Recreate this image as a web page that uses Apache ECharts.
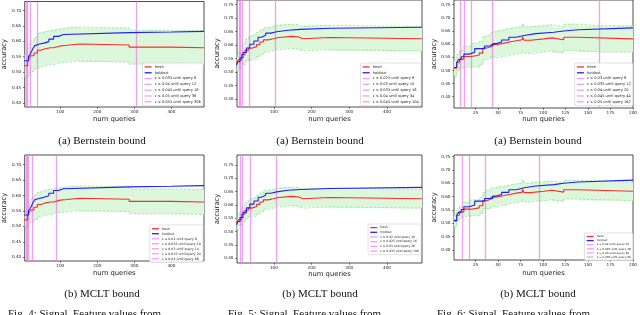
<!DOCTYPE html>
<html><head><meta charset="utf-8">
<script src="https://cdn.jsdelivr.net/npm/echarts@6/dist/echarts.min.js"></script>
<style>html,body{margin:0;padding:0;background:#fff}#c{width:640px;height:315px}</style>
</head><body><div id="c"></div><script>
// ---- tick labels ----
const yTicksA = [0.40, 0.45, 0.50, 0.55, 0.60, 0.65, 0.70];
const yTicksB = [0.40, 0.45, 0.50, 0.55, 0.60, 0.65, 0.70, 0.75];
const xTicksA = [100, 200, 300, 400];
const xTicksB = [25, 50, 75, 100, 125, 150, 175, 200];

// ---- Fig. 4 (left column) ----
const f4FreshX = [1, 12, 16, 20, 29, 38, 47, 60, 73, 78, 82, 100, 118, 153, 286, 400, 488];
const f4FreshY = [0.521, 0.533, 0.545, 0.553, 0.562, 0.571, 0.576, 0.579, 0.582, 0.579, 0.585, 0.587, 0.591, 0.588, 0.581, 0.579, 0.579];
const f4HoldX = [1, 14, 18, 22, 27, 31, 36, 44, 56, 69, 82, 95, 109, 286, 400, 488];
const f4HoldY = [0.537, 0.550, 0.557, 0.566, 0.578, 0.586, 0.591, 0.594, 0.599, 0.607, 0.616, 0.622, 0.628, 0.630, 0.632, 0.632];

// ---- Fig. 5 (middle column) ----
const f5FreshX = [1, 5, 14, 23, 32, 41, 54, 63, 72, 85, 98, 112, 150, 166, 176, 249, 493];
const f5FreshY = [0.530, 0.545, 0.565, 0.580, 0.588, 0.594, 0.602, 0.611, 0.619, 0.623, 0.628, 0.632, 0.630, 0.623, 0.628, 0.623, 0.623];
const f5HoldX = [1, 4, 10, 18, 27, 36, 47, 58, 67, 78, 92, 107, 138, 170, 249, 493];
const f5HoldY = [0.525, 0.538, 0.553, 0.572, 0.589, 0.603, 0.615, 0.629, 0.636, 0.644, 0.649, 0.655, 0.658, 0.662, 0.666, 0.666];

// ---- Fig. 6 (right column) ----
const f6FreshX = [1, 4, 7, 12, 20, 29, 33, 37, 42, 48, 57, 64, 72, 77, 79, 86, 101, 110, 123, 139, 200];
const f6FreshY = [0.508, 0.530, 0.543, 0.553, 0.558, 0.566, 0.585, 0.590, 0.598, 0.604, 0.609, 0.614, 0.617, 0.628, 0.615, 0.620, 0.624, 0.617, 0.626, 0.620, 0.620];
const f6HoldX = [1, 4, 6, 9, 12, 18, 24, 35, 44, 48, 54, 62, 70, 79, 92, 112, 123, 139, 200];
const f6HoldY = [0.511, 0.530, 0.541, 0.552, 0.562, 0.569, 0.583, 0.593, 0.602, 0.608, 0.616, 0.626, 0.633, 0.640, 0.645, 0.650, 0.655, 0.662, 0.662];

// ---- epsilon bounds (legend / vertical lines) ----
const bern4Eps = [0.035, 0.04, 0.045, 0.05, 0.055];
const bern4Query = [8, 12, 18, 38, 306];
const bern5Eps = [0.025, 0.03, 0.035, 0.04, 0.045];
const bern5Query = [8, 10, 16, 34, 104];
const bern6Eps = [0.03, 0.035, 0.04, 0.045, 0.05];
const bern6Query = [8, 12, 20, 44, 162];
const mclt4Eps = [0.02, 0.025, 0.03, 0.035, 0.04];
const mclt4Query = [8, 10, 14, 24, 88];
const mclt5Eps = [0.02, 0.025, 0.03, 0.035];
const mclt5Query = [10, 16, 36, 106];
const mclt6Eps = [0.02, 0.025, 0.03, 0.035];
const mclt6Query = [10, 18, 36, 96];

const topCaption = '(a) Bernstein bound';
const bottomCaption = '(b) MCLT bound';
const figCaptions = ['Fig. 4: Signal. Feature values from', 'Fig. 5: Signal. Feature values from', 'Fig. 6: Signal. Feature values from'];

// ---- layout ----
const panels = [
  {grid:{left:21,top:1.5,width:183,height:105.5}, x:[4,488], y:[0.387,0.729], xt:xTicksA, yt:yTicksA,
   fresh:[f4FreshX,f4FreshY], hold:[f4HoldX,f4HoldY], eps:[bern4Eps,bern4Query], lg:{right:437,top:63,fs:3.6,pitch:5.8}, yGap:12.5, xGap:8.5},
  {grid:{left:237,top:0,width:185,height:107}, x:[2,493], y:[0.370,0.767], xt:xTicksA, yt:yTicksB,
   fresh:[f5FreshX,f5FreshY], hold:[f5HoldX,f5HoldY], eps:[bern5Eps,bern5Query], lg:{right:219,top:63,fs:3.6,pitch:5.8}, yGap:14.5, xGap:8.5},
  {grid:{left:454,top:0,width:181,height:108}, x:[1,200], y:[0.357,0.768], xt:xTicksB, yt:yTicksB,
   fresh:[f6FreshX,f6FreshY], hold:[f6HoldX,f6HoldY], eps:[bern6Eps,bern6Query], lg:{right:7,top:63,fs:3.6,pitch:5.8}, yGap:13.5, xGap:8},
  {grid:{left:21,top:155,width:183,height:106}, x:[4,488], y:[0.388,0.731], xt:xTicksA, yt:yTicksA,
   fresh:[f4FreshX,f4FreshY], hold:[f4HoldX,f4HoldY], eps:[mclt4Eps,mclt4Query], lg:{right:437,top:225,fs:3.2,pitch:5}, yGap:12.5, xGap:9},
  {grid:{left:237,top:155,width:185,height:108}, x:[2,493], y:[0.382,0.7875], xt:xTicksA, yt:yTicksB,
   fresh:[f5FreshX,f5FreshY], hold:[f5HoldX,f5HoldY], eps:[mclt5Eps,mclt5Query], lg:{right:219,top:224,fs:3.0,pitch:4.7}, yGap:14.5, xGap:8},
  {grid:{left:454,top:155,width:182,height:105}, x:[1,200], y:[0.3625,0.756], xt:xTicksB, yt:yTicksB,
   fresh:[f6FreshX,f6FreshY], hold:[f6HoldX,f6HoldY], eps:[mclt6Eps,mclt6Query], lg:{right:7,top:233,fs:2.8,pitch:4.1}, yGap:13.5, xGap:9.5}
];

const FONT = 'DejaVu Sans';
const SERIF = 'Liberation Serif';
const AX = '#222';

function stepAt(xs, ys, x) { let v = ys[0]; for (let i = 0; i < xs.length; i++) { if (xs[i] <= x) v = ys[i]; } return v; }
function epsAt(vals, qs, x) { for (let k = 0; k < qs.length; k++) { if (x < qs[k]) return vals[k]; } return vals[vals.length - 1]; }

const grids = [], xAxes = [], yAxes = [], series = [], legends = [], graphics = [];

panels.forEach((p, i) => {
  grids.push(Object.assign({show:true, borderColor:AX, borderWidth:0.8, backgroundColor:'transparent', containLabel:false}, p.grid));
  xAxes.push({type:'value', gridIndex:i, min:p.x[0], max:p.x[1],
    name:'num queries', nameLocation:'middle', nameGap:p.xGap, nameTextStyle:{fontFamily:FONT, fontSize:6.8, color:AX},
    axisLine:{show:false}, splitLine:{show:false},
    axisTick:{show:true, length:1.8, customValues:p.xt, lineStyle:{color:AX, width:0.6}},
    axisLabel:{fontFamily:FONT, fontSize:4.2, color:AX, margin:2.5, customValues:p.xt, formatter: v => String(v)}});
  yAxes.push({type:'value', gridIndex:i, min:p.y[0], max:p.y[1],
    name:'accuracy', nameLocation:'middle', nameGap:p.yGap, nameTextStyle:{fontFamily:FONT, fontSize:6.8, color:AX},
    axisLine:{show:false}, splitLine:{show:false},
    axisTick:{show:true, length:1.8, customValues:p.yt, lineStyle:{color:AX, width:0.6}},
    axisLabel:{fontFamily:FONT, fontSize:4.2, color:AX, margin:3.5, customValues:p.yt, formatter: v => v.toFixed(2)}});

  const [fx, fy] = p.fresh, [hx, hy] = p.hold, [ev, eq] = p.eps;
  // band breakpoints: union of fresh change points and epsilon change points
  const xsSet = new Set(fx.concat(eq.filter(q => q > p.x[0] && q < p.x[1])));
  const bx = Array.from(xsSet).sort((a, b) => a - b);
  const bandData = [], loData = [], hiData = [];
  bx.forEach((x, k) => {
    const f = stepAt(fx, fy, x), e = epsAt(ev, eq, x);
    const xn = k < bx.length - 1 ? bx[k + 1] : p.x[1];
    bandData.push([x, xn, f - e, f + e]);
    loData.push([x, f - e]); hiData.push([x, f + e]);
  });
  const last = bandData[bandData.length - 1];
  loData.push([p.x[1], last[2]]); hiData.push([p.x[1], last[3]]);

  series.push({type:'custom', xAxisIndex:i, yAxisIndex:i, z:1, silent:true, data:bandData, encode:{x:[0,1], y:[2,3]},
    renderItem: (params, api) => {
      const a = api.coord([api.value(0), api.value(3)]), b = api.coord([api.value(1), api.value(2)]);
      const cs = params.coordSys;
      const r = echarts.graphic.clipRectByRect({x:a[0], y:a[1], width:b[0]-a[0]+0.7, height:b[1]-a[1]}, {x:cs.x, y:cs.y, width:cs.width, height:cs.height});
      return r ? {type:'rect', shape:r, style:{fill:'#ddf7dd'}} : null;
    }});
  [loData, hiData].forEach(d => series.push({type:'line', xAxisIndex:i, yAxisIndex:i, z:2, silent:true, step:'end', showSymbol:false, data:d,
    lineStyle:{color:'#8ee68e', width:0.8, type:[2.5,1.6]}, name:'_band'}));

  const epsNames = [];
  ev.forEach((e, k) => {
    const nm = 'ε ≤ ' + e + ' until query ' + eq[k];
    epsNames.push(nm);
    const col = 'rgba(236,130,236,0.75)';
    series.push({type:'line', name:nm, xAxisIndex:i, yAxisIndex:i, z:3, data:[], color:col, itemStyle:{color:col}, lineStyle:{color:col},
      markLine:{silent:true, symbol:'none', label:{show:false}, animation:false, lineStyle:{color:col, width:1.3, type:'solid'}, data:[{xAxis:eq[k]}]}});
  });
  series.push({type:'line', name:'fresh', xAxisIndex:i, yAxisIndex:i, z:5, step:'end', showSymbol:false, color:'#ff2a2a',
    data:fx.map((x, k) => [x, fy[k]]), lineStyle:{width:1.1, color:'#ff2a2a'}});
  series.push({type:'line', name:'holdout', xAxisIndex:i, yAxisIndex:i, z:5, step:'end', showSymbol:false, color:'#1f1fff',
    data:hx.map((x, k) => [x, hy[k]]), lineStyle:{width:1.1, color:'#1f1fff'}});

  const lh = p.lg.fs * 1.2;
  legends.push({orient:'vertical', right:p.lg.right, top:p.lg.top, icon:'rect', itemWidth:7, itemHeight:1.3,
    itemGap:p.lg.pitch - lh, padding:[1.8, 2.2], borderColor:'#cccccc', borderWidth:0.6, borderRadius:1.5,
    backgroundColor:'rgba(255,255,255,0.85)', selectedMode:false, z:10,
    textStyle:{fontFamily:FONT, fontSize:p.lg.fs, lineHeight:lh, color:'#222', padding:[0,0,0,-2]},
    data:['fresh', 'holdout'].concat(epsNames)});
});

const capX = [102, 320, 538];
capX.forEach((cx, k) => {
  graphics.push({type:'text', x:cx, y:141.5, style:{text:topCaption, font:'11px "' + SERIF + '"', fill:'#111', textAlign:'center', textVerticalAlign:'middle'}});
  graphics.push({type:'text', x:cx, y:294.5, style:{text:bottomCaption, font:'11px "' + SERIF + '"', fill:'#111', textAlign:'center', textVerticalAlign:'middle'}});
});
[8, 228, 437].forEach((lx, k) => {
  graphics.push({type:'text', x:lx, y:309, style:{text:figCaptions[k], font:'11px "' + SERIF + '"', fill:'#111', textAlign:'left', textVerticalAlign:'top'}});
});

const chart = echarts.init(document.getElementById('c'), null, {renderer:'canvas'});
chart.setOption({animation:false, backgroundColor:'#fff', grid:grids, xAxis:xAxes, yAxis:yAxes, series:series, legend:legends, graphic:graphics});
</script></body></html>
